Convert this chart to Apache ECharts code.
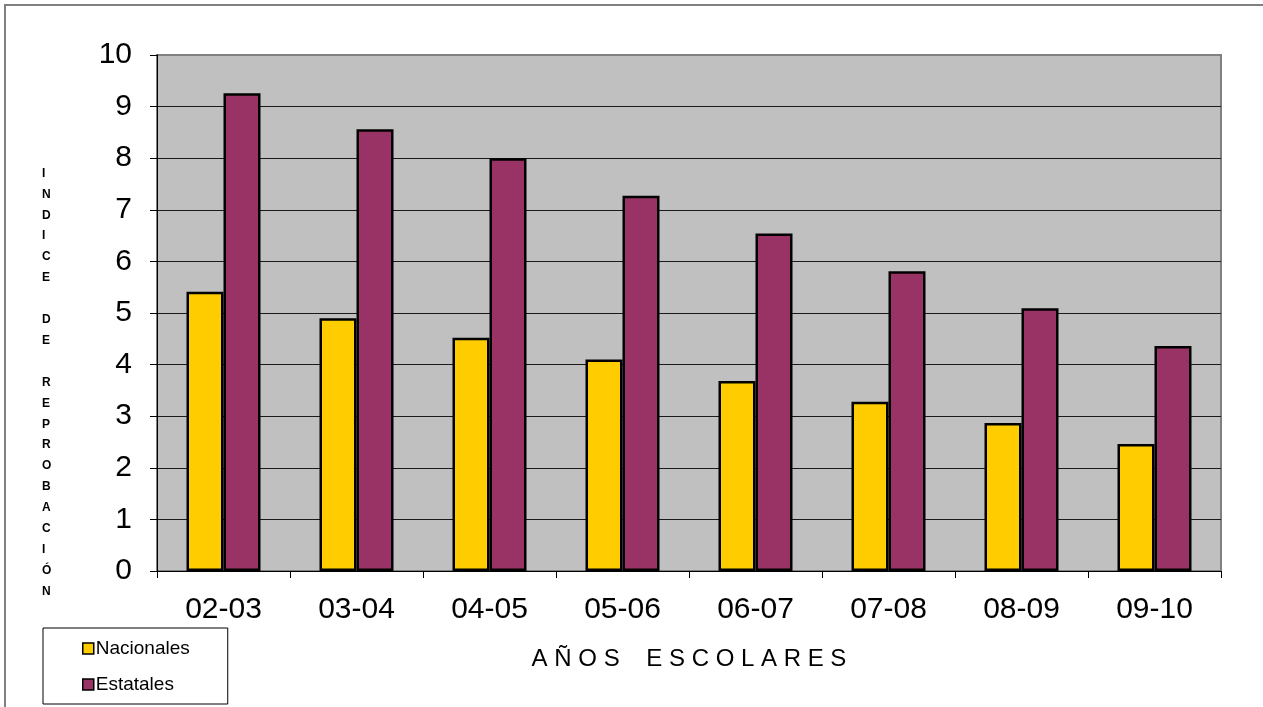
<!DOCTYPE html>
<html>
<head>
<meta charset="utf-8">
<script src="https://cdn.jsdelivr.net/npm/echarts@6/dist/echarts.min.js"></script>
<style>
  html, body { margin: 0; padding: 0; background: #fff; }
  #main { width: 1263px; height: 707px; }
</style>
</head>
<body>
<div id="main"></div>
<script>
// datos
var years = ['02-03', '03-04', '04-05', '05-06', '06-07', '07-08', '08-09', '09-10']
var nacionales = [5.41, 4.9, 4.52, 4.1, 3.68, 3.28, 2.87, 2.46]
var estatales = [9.26, 8.56, 8.0, 7.27, 6.54, 5.81, 5.09, 4.36]
var yTicks = [0, 1, 2, 3, 4, 5, 6, 7, 8, 9, 10]

var font = 'Liberation Sans, Arial, sans-serif'
var myChart = echarts.init(document.getElementById('main'))

// lineas de la cuadricula: la ultima (10) en gris como el borde
var splitColors = yTicks.map(function (v) {
  return v === 10 ? '#808080' : '#1a1a1a'
})

myChart.setOption({
  animation: false,
  backgroundColor: '#fff',
  grid: {
    left: 157,
    top: 55,
    right: 42,
    bottom: 136,
    show: true,
    backgroundColor: '#C0C0C0',
    borderColor: '#808080',
    borderWidth: 2
  },
  legend: {
    orient: 'vertical',
    left: 43,
    top: 628,
    data: ['Nacionales', 'Estatales'],
    itemWidth: 11,
    itemHeight: 11,
    itemGap: 17,
    icon: 'rect',
    backgroundColor: '#fff',
    borderColor: '#000',
    borderWidth: 1,
    borderRadius: 0,
    padding: [11, 38, 10, 39],
    textStyle: {
      fontFamily: font,
      fontSize: 19,
      color: '#000',
      padding: [0, 0, 0, -3]
    },
    itemStyle: {
      borderColor: '#000',
      borderWidth: 1.5
    }
  },
  xAxis: {
    type: 'category',
    data: years,
    name: 'A Ñ O S    E S C O L A R E S',
    nameLocation: 'middle',
    nameGap: 76,
    nameTextStyle: {
      fontFamily: font,
      fontSize: 24,
      color: '#000'
    },
    axisLine: { lineStyle: { color: '#000', width: 1 } },
    axisTick: { show: true, length: 7, lineStyle: { color: '#000' } },
    axisLabel: {
      fontFamily: font,
      fontSize: 30,
      color: '#000',
      margin: 24
    },
    splitLine: { show: false }
  },
  yAxis: {
    type: 'value',
    min: 0,
    max: 10,
    interval: 1,
    axisLine: { show: true, lineStyle: { color: '#000', width: 1 } },
    axisTick: { show: true, length: 7, lineStyle: { color: '#000' } },
    axisLabel: {
      fontFamily: font,
      fontSize: 30,
      color: '#000',
      margin: 25
    },
    splitLine: {
      show: true,
      lineStyle: { color: splitColors, width: 1 }
    }
  },
  graphic: [
    {
      type: 'line',
      shape: { x1: 4, y1: 5, x2: 1263, y2: 5 },
      style: { stroke: '#808080', lineWidth: 2 }
    },
    {
      type: 'line',
      shape: { x1: 5, y1: 4, x2: 5, y2: 707 },
      style: { stroke: '#808080', lineWidth: 2 }
    },
    {
      type: 'text',
      left: 42,
      top: 163,
      style: {
        text: 'I\nN\nD\nI\nC\nE\n\nD\nE\n\nR\nE\nP\nR\nO\nB\nA\nC\nI\nÓ\nN',
        font: 'bold 12px ' + font,
        fill: '#000',
        align: 'center',
        lineHeight: 20.9
      }
    }
  ],
  series: [
    {
      name: 'Nacionales',
      type: 'bar',
      barWidth: 37,
      barGap: '0%',
      itemStyle: {
        color: '#FFCC00',
        borderColor: '#000',
        borderWidth: 2.5
      },
      data: nacionales
    },
    {
      name: 'Estatales',
      type: 'bar',
      barWidth: 37,
      barGap: '0%',
      itemStyle: {
        color: '#993366',
        borderColor: '#000',
        borderWidth: 2.5
      },
      data: estatales
    }
  ]
})
</script>
</body>
</html>
